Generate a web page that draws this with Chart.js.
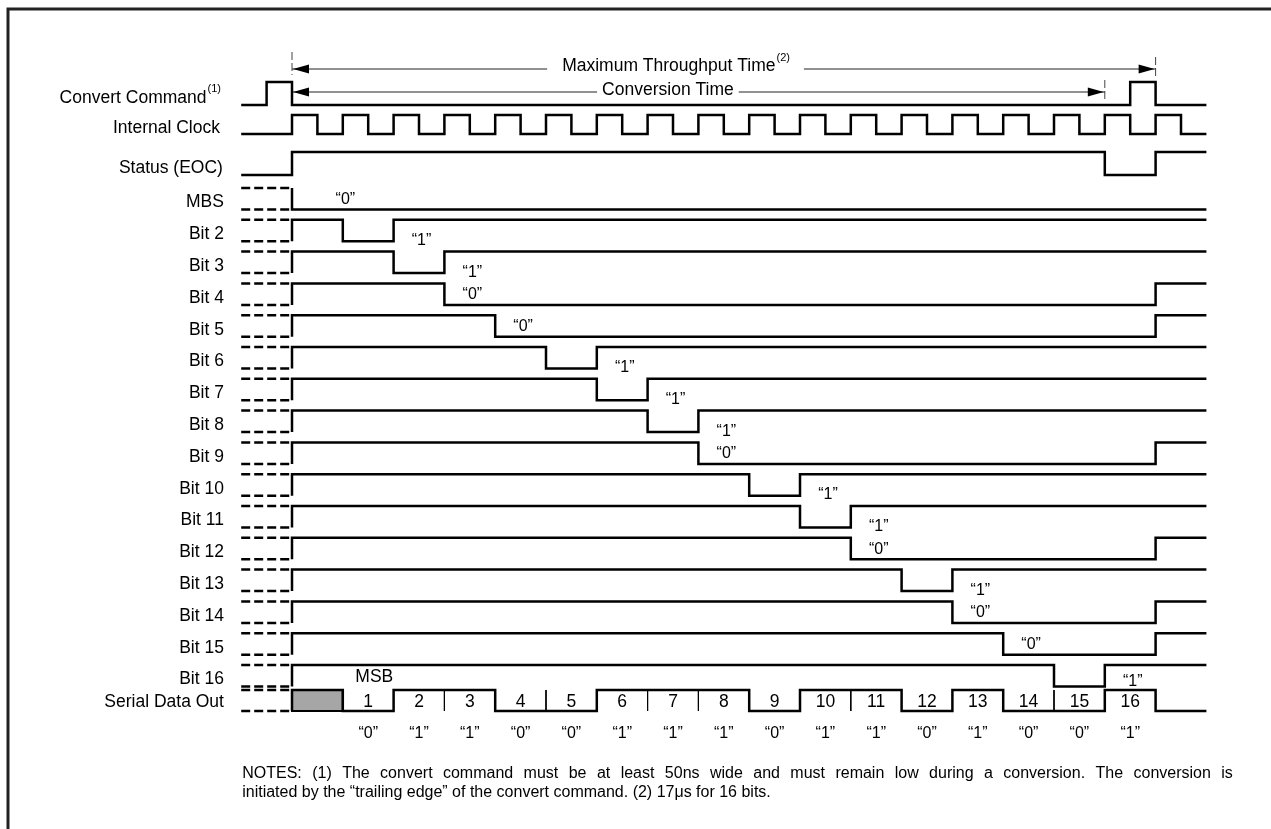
<!DOCTYPE html>
<html>
<head>
<meta charset="utf-8">
<script src="https://cdn.jsdelivr.net/npm/chart.js@4"></script>
<style>
html,body{margin:0;padding:0;background:#fff;}
#wrap{position:relative;width:1271px;height:829px;}
</style>
</head>
<body>
<div id="wrap"><canvas id="timing"></canvas></div>
<script>
// data (time in clock periods, conversion starts at t=0)
const bitNames = ['MBS','Bit 2','Bit 3','Bit 4','Bit 5','Bit 6','Bit 7','Bit 8','Bit 9','Bit 10','Bit 11','Bit 12','Bit 13','Bit 14','Bit 15','Bit 16'];
const bitValues = [0,1,1,0,0,1,1,1,0,1,1,0,1,0,0,1];
const serialNums = ['1','2','3','4','5','6','7','8','9','10','11','12','13','14','15','16'];
const convertEdges = [-0.5,0,16.5,17];
const clockEdges = [0,0.5,1,1.5,2,2.5,3,3.5,4,4.5,5,5.5,6,6.5,7,7.5,8,8.5,9,9.5,10,10.5,11,11.5,12,12.5,13,13.5,14,14.5,15,15.5,16,16.5,17,17.5];
const statusEdges = [0,16,17];
const throughputSpan = [0,17];
const conversionSpan = [0,16];
const tStart = -1, tEnd = 18;

// layout (pixels on y, canvas is 1271x829)
const X0 = 292, PERIOD = 50.8;
const ROW_TOP = 188, ROW_GAP = 31.8, AMP = 21.5;
const SER_HI = 690, SER_LO = 711;
const LW = 2.5;

const qs = id => document.getElementById(id);

function stepLine(edges, hi, lo, startHigh){
  let level = startHigh;
  const pts = [{x:tStart, y: level ? hi : lo}];
  edges.forEach(t => {
    pts.push({x:t, y: level ? hi : lo});
    level = !level;
    pts.push({x:t, y: level ? hi : lo});
  });
  pts.push({x:tEnd, y: level ? hi : lo});
  return pts;
}

function bitLine(k, v){
  const hi = ROW_TOP + ROW_GAP*(k-1), lo = hi + AMP;
  if (k === 1) return [{x:0,y:hi},{x:0,y:lo},{x:tEnd,y:lo}];
  const pts = [{x:0,y:lo},{x:0,y:hi},{x:k-1,y:hi},{x:k-1,y:lo}];
  if (v) pts.push({x:k,y:lo},{x:k,y:hi},{x:tEnd,y:hi});
  else pts.push({x:17,y:lo},{x:17,y:hi},{x:tEnd,y:hi});
  return pts;
}

const ds = (data, extra) => Object.assign({data, showLine:true, borderColor:'#000', borderWidth:LW, pointRadius:0, fill:false}, extra||{});

const datasets = [];
datasets.push(ds(stepLine(convertEdges, 82, 105, false)));
datasets.push(ds(stepLine(clockEdges, 115, 134, false)));
datasets.push(ds(stepLine(statusEdges, 152, 175, false)));
bitValues.forEach((v,i) => datasets.push(ds(bitLine(i+1, v))));

// dashed "unknown" levels left of the start
const dash = [];
bitValues.forEach((v,i) => {
  const hi = ROW_TOP + ROW_GAP*i, lo = hi + AMP;
  dash.push({x:tStart,y:hi},{x:0,y:hi},{x:0,y:null},{x:tStart,y:lo},{x:0,y:lo},{x:0,y:null});
});
dash.push({x:tStart,y:SER_HI},{x:0,y:SER_HI},{x:0,y:null},{x:tStart,y:SER_LO},{x:0,y:SER_LO});
datasets.push(ds(dash, {borderDash:[9,4], spanGaps:false}));

// serial data out
const ser = [{x:0,y:SER_LO},{x:0,y:SER_HI},{x:1,y:SER_HI}];
let prev = SER_HI;
bitValues.forEach((v,i) => {
  const y = v ? SER_HI : SER_LO;
  ser.push({x:i+1,y:prev},{x:i+1,y:y});
  prev = y;
});
ser.push({x:17,y:prev},{x:17,y:SER_LO},{x:tEnd,y:SER_LO});
datasets.push(ds(ser));
datasets.push(ds([{x:0,y:SER_HI},{x:1,y:SER_HI},{x:1,y:SER_LO},{x:0,y:SER_LO},{x:0,y:SER_HI}],
  {fill:'shape', backgroundColor:'#a6a6a6', borderWidth:2}));
const seps = [];
bitValues.forEach((v,i) => {
  if (i > 0 && bitValues[i-1] === v) seps.push({x:i+1,y:SER_HI},{x:i+1,y:SER_LO},{x:i+1,y:null});
});
datasets.push(ds(seps, {borderWidth:1, spanGaps:false}));

// time spans with ticks
datasets.push(ds([{x:throughputSpan[0],y:69},{x:throughputSpan[1],y:69}], {borderWidth:1, borderColor:'#222'}));
datasets.push(ds([{x:conversionSpan[0],y:92},{x:conversionSpan[1],y:92}], {borderWidth:1, borderColor:'#222'}));
datasets.push(ds([
  {x:throughputSpan[0],y:52},{x:throughputSpan[0],y:75},{x:0,y:null},
  {x:throughputSpan[1],y:57},{x:throughputSpan[1],y:79},{x:0,y:null},
  {x:conversionSpan[1],y:80},{x:conversionSpan[1],y:102}
], {borderWidth:1, borderColor:'#444', borderDash:[8,3], spanGaps:false}));

const FONT = '"Liberation Sans", Arial, sans-serif';
const LBL = 17.5;

const textPlugin = {
  id:'texts',
  beforeDraw(chart){
    const c = chart.ctx;
    c.save();
    c.fillStyle = '#fff';
    c.fillRect(0,0,chart.width,chart.height);
    c.strokeStyle = '#222'; c.lineWidth = 3;
    c.beginPath(); c.moveTo(8,chart.height); c.lineTo(8,9); c.lineTo(chart.width,9); c.stroke();
    c.restore();
  },
  afterDraw(chart){
    const c = chart.ctx, xs = chart.scales.x, ys = chart.scales.y;
    const px = t => xs.getPixelForValue(t), py = v => ys.getPixelForValue(v);
    c.save();
    c.fillStyle = '#000';
    c.textBaseline = 'middle';
    const txt = (s, x, y, align, size) => {
      c.font = size + 'px ' + FONT; c.textAlign = align; c.fillText(s, x, y);
    };
    const labelX = px(-1.34);
    // row labels
    c.font = '11px ' + FONT;
    const supW = c.measureText('(1)').width;
    txt('Convert Command', labelX - 4 - supW, py(98), 'right', LBL);
    txt('(1)', labelX - 3 - supW, py(89), 'left', 11);
    txt('Internal Clock', labelX - 4, py(128), 'right', LBL);
    txt('Status (EOC)', labelX - 1, py(168), 'right', LBL);
    bitNames.forEach((n,i) => txt(n, labelX, py(ROW_TOP + ROW_GAP*i + 14.5), 'right', LBL));
    txt('Serial Data Out', labelX, py(702), 'right', LBL);

    // bit result quotes
    bitValues.forEach((v,i) => {
      const k = i+1, hi = ROW_TOP + ROW_GAP*i, lo = hi + AMP;
      const t = v ? k + 0.55 : Math.max(k - 0.45, 1.05);
      const y = k === 16 ? lo - 5 : (v ? lo - 1 : lo - 10);
      txt('\u201C' + v + '\u201D', px(t), py(y), 'center', 16);
    });

    // serial cells
    serialNums.forEach((s,i) => {
      txt(s, px(i+1.5), py(SER_HI + 12), 'center', LBL);
      txt('\u201C' + bitValues[i] + '\u201D', px(i+1.5), py(734), 'center', 16);
    });
    txt('MSB', px(1.62), py(677), 'center', LBL);

    // span captions on white
    const caption = (main, sup, tc, y, pad) => {
      c.font = LBL + 'px ' + FONT; const w1 = c.measureText(main).width;
      c.font = '11px ' + FONT; const w2 = sup ? c.measureText(sup).width : 0;
      const w = w1 + w2, x0 = px(tc) - w/2;
      c.fillStyle = '#fff'; c.fillRect(x0 - pad, py(y) - 6, w + 2*pad, 12);
      c.fillStyle = '#000';
      txt(main, x0, py(y - 1.5), 'left', LBL);
      if (sup) txt(sup, x0 + w1 + 1, py(y - 10), 'left', 11);
    };
    caption('Maximum Throughput Time', '(2)', 7.55, 68, 15);
    caption('Conversion Time', '', 7.4, 92, 5);

    // arrowheads
    const head = (x, y, dir) => {
      c.beginPath(); c.moveTo(x, y); c.lineTo(x - dir*16, y - 4.5); c.lineTo(x - dir*16, y + 4.5); c.closePath(); c.fill();
    };
    c.fillStyle = '#000';
    head(px(throughputSpan[0]) + 1, py(69), -1);
    head(px(throughputSpan[1]) - 1, py(69), 1);
    head(px(conversionSpan[0]) + 1, py(92), -1);
    head(px(conversionSpan[1]) - 1, py(92), 1);

    // notes, first line justified
    const nx = px(-0.98), nEnd = px(18.52);
    c.font = '16px ' + FONT; c.textAlign = 'left';
    const words = 'NOTES: (1) The convert command must be at least 50ns wide and must remain low during a conversion. The conversion is'.split(' ');
    const wsum = words.reduce((a,w) => a + c.measureText(w).width, 0);
    const gap = (nEnd - nx - wsum) / (words.length - 1);
    let cx = nx;
    words.forEach(w => { c.fillText(w, cx, py(774)); cx += c.measureText(w).width + gap; });
    txt('initiated by the \u201Ctrailing edge\u201D of the convert command. (2) 17\u03BCs for 16 bits.', nx, py(793), 'left', 16);
    c.restore();
  }
};

new Chart(qs('timing'), {
  type:'scatter',
  data:{datasets},
  options:{
    responsive:true, maintainAspectRatio:false, animation:false, events:[],
    layout:{padding:0},
    plugins:{legend:{display:false}, tooltip:{enabled:false}},
    elements:{point:{radius:0}, line:{tension:0, borderCapStyle:'butt', borderJoinStyle:'miter'}},
    scales:{
      x:{type:'linear', display:false, min:-X0/PERIOD, max:(1271-X0)/PERIOD},
      y:{type:'linear', display:false, min:0, max:829, reverse:true}
    }
  },
  plugins:[textPlugin]
});
</script>
</body>
</html>
